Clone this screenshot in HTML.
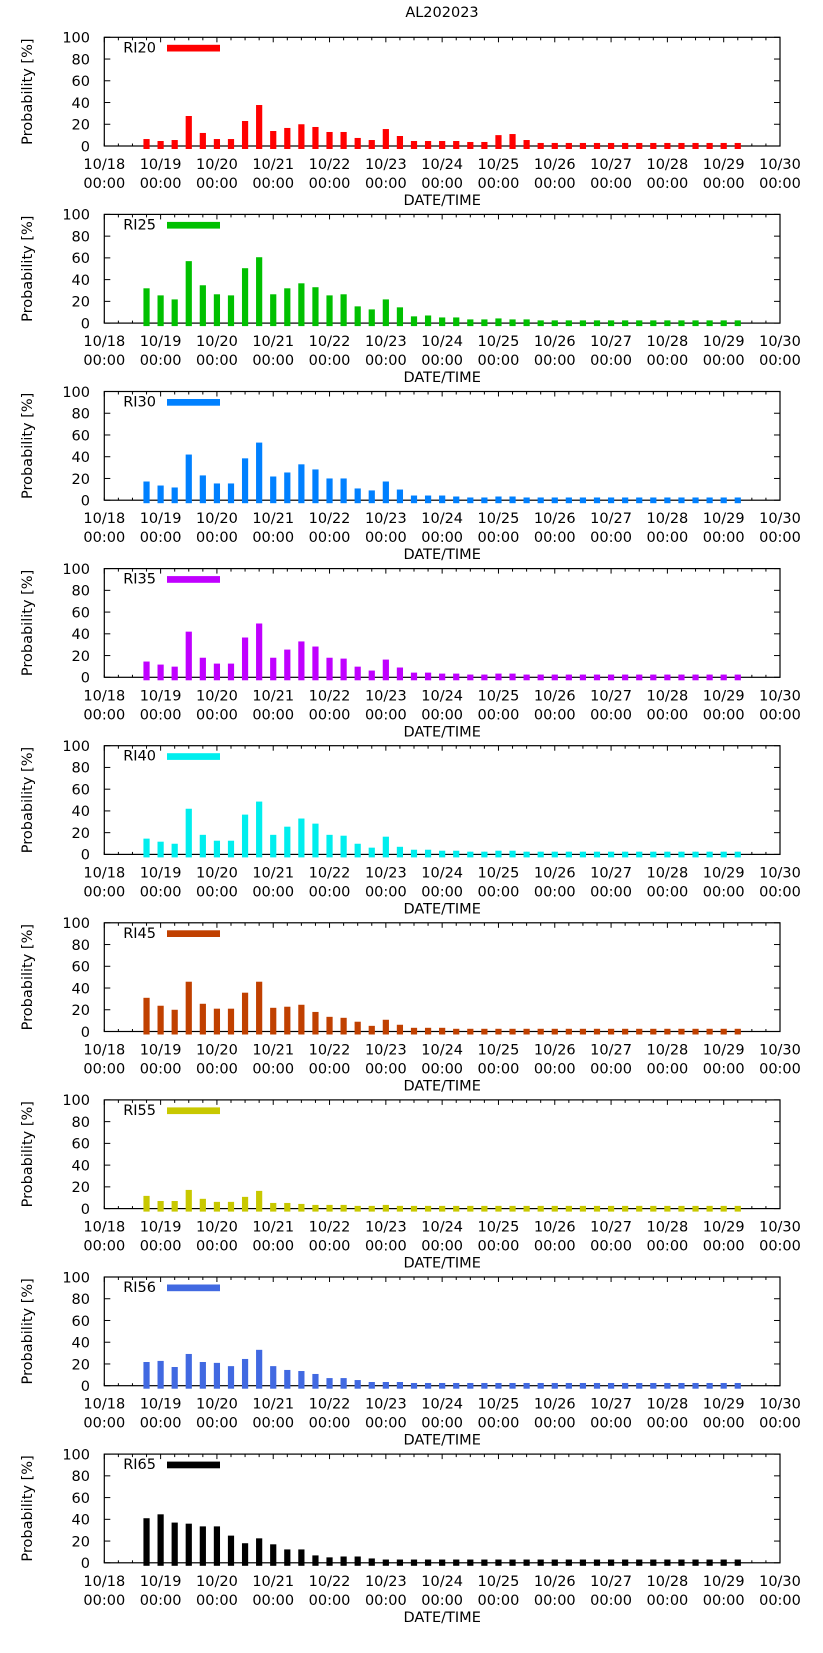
<!DOCTYPE html>
<html><head><meta charset="utf-8"><style>
html,body{margin:0;padding:0;background:#fff;}
svg{display:block;font-family:"DejaVu Sans","Liberation Sans",sans-serif;}
</style></head><body>
<svg id="chart" width="823" height="1653" viewBox="0 0 823 1653" xmlns="http://www.w3.org/2000/svg">
<text x="442" y="17" font-size="14.5" text-anchor="middle">AL202023</text>
</svg>
<script>
const panelNames = ["RI20","RI25","RI30","RI35","RI40","RI45","RI55","RI56","RI65"];
const panelColors = ["#ff0000","#00c000","#0080ff","#c000ff","#00eeee","#c04000","#c8c800","#4169e1","#000000"];
const dayLabels = ["10/18","10/19","10/20","10/21","10/22","10/23","10/24","10/25","10/26","10/27","10/28","10/29","10/30"];
const yTicks = [0,20,40,60,80,100];
const firstBarDay = 0.75;
const barStepDay = 0.25;
const ri20 = [6.4,4.6,5.5,27.6,12,6.4,6.4,23,37.7,13.8,16.6,20,17.5,12.9,12.9,7.4,5.5,15.6,9.2,4.6,4.6,4.6,4.6,3.7,3.7,10,11,5.5,2.8,2.8,2.8,2.8,2.8,2.8,2.8,2.8,2.8,2.8,2.8,2.8,2.8,2.8,2.8];
const ri25 = [32,25.5,21.8,57,34.8,26.5,25.5,50.5,60.6,26.5,32,36.6,33,25.5,26.5,15.4,12.6,21.8,14.5,6.2,7,5.2,5.2,3.4,3.4,4.3,3.4,3.4,2.5,2.5,2.5,2.5,2.5,2.5,2.5,2.5,2.5,2.5,2.5,2.5,2.5,2.5,2.5];
const ri30 = [17.2,13.5,11.7,42,22.8,15.4,15.4,38.5,53,21.8,25.5,33,28.3,20,20,10.8,9,17.2,9.8,4.3,4.3,4.3,3.4,2.5,2.5,3.4,3.4,2.5,2.5,2.5,2.5,2.5,2.5,2.5,2.5,2.5,2.5,2.5,2.5,2.5,2.5,2.5,2.5];
const ri35 = [14.5,11.7,9.8,42,18,12.6,12.6,36.6,49.5,18,25.5,33,28.3,18,17.2,9.8,6.2,16.3,9,4.3,4.3,3.4,3.4,2.5,2.5,3.4,3.4,2.5,2.5,2.5,2.5,2.5,2.5,2.5,2.5,2.5,2.5,2.5,2.5,2.5,2.5,2.5,2.5];
const ri40 = [14.5,11.7,9.8,42,18,12.6,12.6,36.6,48.6,18,25.5,33,28.3,18,17.2,9.8,6.2,16.3,7,4.3,4.3,3.4,3.4,2.5,2.5,3.4,3.4,2.5,2.5,2.5,2.5,2.5,2.5,2.5,2.5,2.5,2.5,2.5,2.5,2.5,2.5,2.5,2.5];
const ri45 = [31,23.7,20,45.8,25.5,21,21,35.7,45.8,21.8,22.8,24.6,18,13.5,12.6,9,5.2,10.8,6.2,3.4,3.4,3.4,2.5,2.5,2.5,2.5,2.5,2.5,2.5,2.5,2.5,2.5,2.5,2.5,2.5,2.5,2.5,2.5,2.5,2.5,2.5,2.5,2.5];
const ri55 = [11.7,7,7,17.2,9,6.2,6.2,10.8,16.3,5.2,5.2,4.3,3.4,3.4,3.4,2.5,2.5,3.4,2.5,2.5,2.5,2.5,2.5,2.5,2.5,2.5,2.5,2.5,2.5,2.5,2.5,2.5,2.5,2.5,2.5,2.5,2.5,2.5,2.5,2.5,2.5,2.5,2.5];
const ri56 = [21.8,22.8,17.2,29.2,21.8,21,18,24.6,33,18,14.5,13.5,10.8,7,7,5.2,3.4,3.4,3.4,2.5,2.5,2.5,2.5,2.5,2.5,2.5,2.5,2.5,2.5,2.5,2.5,2.5,2.5,2.5,2.5,2.5,2.5,2.5,2.5,2.5,2.5,2.5,2.5];
const ri65 = [41,44.6,37,36,33.5,33.5,25,18,22.5,17,12.3,12.3,6.8,5,5.8,5.8,4,3,3,3,3,3,3,3,3,3,3,3,3,3,3,3,3,3,3,3,3,3,3,3,3,3,3];
const allSeries = [ri20,ri25,ri30,ri35,ri40,ri45,ri55,ri56,ri65];

const NS = "http://www.w3.org/2000/svg";
const svg = document.getElementById("chart");
const L = 104.3, R = 780, PH = 108.7, TOP0 = 37.3, PITCH = 177.1;
const dayW = (R - L) / (dayLabels.length - 1);
function xScale(d){ return L + d * dayW; }
function mk(tag, attrs, parent){
  const e = document.createElementNS(NS, tag);
  for (const k in attrs) e.setAttribute(k, attrs[k]);
  (parent || svg).appendChild(e);
  return e;
}
allSeries.forEach((series, p) => {
  const top = TOP0 + p * PITCH, bot = top + PH;
  const yScale = v => bot - v / 100 * PH;
  const g = mk("g", {});
  
  
  for (let k = 0; k <= 48; k++) {
    const x = xScale(k * 0.25);
    const len = (k % 4 === 0) ? 5 : 3;
    mk("line", {x1: x, x2: x, y1: bot, y2: bot - 2.5, stroke: "#000", "stroke-width": 1}, g);
    mk("line", {x1: x, x2: x, y1: top, y2: top + len, stroke: "#000", "stroke-width": 1}, g);
  }
  yTicks.forEach(t => {
    const y = yScale(t);
    mk("line", {x1: L, x2: L + 6, y1: y, y2: y, stroke: "#000"}, g);
    mk("line", {x1: R, x2: R - 6, y1: y, y2: y, stroke: "#000"}, g);
    const tl = mk("text", {x: 90, y: y + 5.3, "font-size": 14.5, "text-anchor": "end"}, g);
    tl.textContent = t;
    
    
  });
  const bx = mk("rect", {x: L, y: top, width: R - L, height: PH, fill: "none", stroke: "#000", "stroke-width": 1.2}, g);
  
  
  series.forEach((v, i) => {
    const cx = xScale(firstBarDay + i * barStepDay);
    const r = mk("rect", {x: cx - 3.1, y: yScale(v), width: 6.2, height: (bot - yScale(v)) + 3, fill: panelColors[p]}, g);
    
    
  });
  dayLabels.forEach((d, i) => {
    const x = xScale(i);
    const t1 = mk("text", {x: x, y: bot + 23, "font-size": 14.5, "text-anchor": "middle"}, g);
    t1.textContent = d;
    
    
    const t2 = mk("text", {x: x, y: bot + 42, "font-size": 14.5, "text-anchor": "middle"}, g);
    t2.textContent = "00:00";
    
    
  });
  const xt = mk("text", {x: (L + R) / 2, y: bot + 59, "font-size": 14.5, "text-anchor": "middle"}, g);
  xt.textContent = "DATE/TIME";
  
  
  const yt = mk("text", {x: 0, y: 0, "font-size": 14.5, "text-anchor": "middle", transform: "translate(32," + (top + PH / 2) + ") rotate(-90)"}, g);
  yt.textContent = "Probability [%]";
  
  
  const lt = mk("text", {x: 156, y: top + 15, "font-size": 14.5, "text-anchor": "end"}, g);
  lt.textContent = panelNames[p];
  
  
  const ls = mk("rect", {x: 167, y: top + 7.5, width: 53, height: 6.7, fill: panelColors[p]}, g);
  
  
});
</script>
</body></html>
